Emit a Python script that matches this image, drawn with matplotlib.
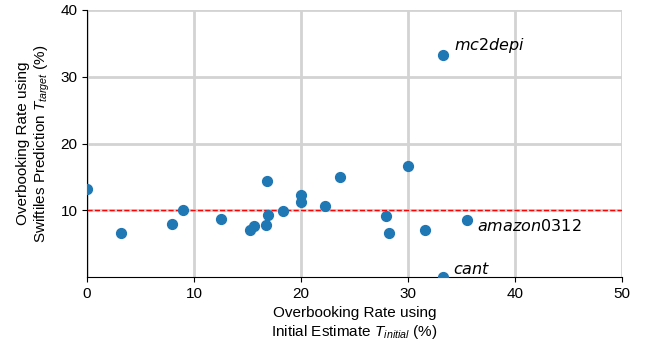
import matplotlib.pyplot as plt

# overbooking rates (%)
t_initial = [0.0, 3.15, 7.9, 9.0, 12.5, 15.2, 15.6, 16.7, 16.8, 16.95, 18.35,
             20.0, 20.0, 22.2, 23.6, 30.0, 27.9, 28.25, 31.55, 33.3, 35.5, 33.25]
t_target = [13.2, 6.6, 7.9, 10.0, 8.75, 7.05, 7.65, 7.75, 14.4, 9.3, 9.9,
            12.3, 11.2, 10.65, 15.05, 16.65, 9.2, 6.6, 7.05, 33.3, 8.6, 0.05]
# \mathsf is mapped to DejaVu italic below, digits stay upright
labeled = {19: r"$\mathsf{mc}\mathrm{2}\mathsf{depi}$",
           20: r"$\mathsf{amazon}\mathrm{0312}$",
           21: r"$\mathsf{cant}$"}
label_offsets = {19: (7.5, 0), 20: (7.5, -10), 21: (7, 0)}
target_rate = 10

plt.rcParams["font.family"] = ["Liberation Sans", "DejaVu Sans"]
plt.rcParams["mathtext.fontset"] = "custom"
plt.rcParams["mathtext.it"] = "Liberation Sans:italic"
plt.rcParams["mathtext.rm"] = "DejaVu Sans"
plt.rcParams["mathtext.sf"] = "DejaVu Sans:italic"

fig = plt.figure(figsize=(6.5, 3.43), dpi=100)
ax = fig.add_axes([0.134, 0.192, 0.823, 0.779])

ax.scatter(t_initial, t_target, s=50, color="#1f77b4", zorder=3)
ax.axhline(target_rate, color="red", linestyle="--", linewidth=1, zorder=2)

for i, name in labeled.items():
    ax.annotate(name, (t_initial[i], t_target[i]), xytext=label_offsets[i],
                textcoords="offset points", fontsize=11.5, va="bottom")

ax.set_xlim(0, 50)
ax.set_ylim(0, 40)
ax.set_xticks([0, 10, 20, 30, 40, 50])
ax.set_yticks([10, 20, 30, 40])
ax.grid(True, color="#d3d3d3", linewidth=2)
ax.set_axisbelow(True)
ax.spines["top"].set_visible(False)
ax.spines["right"].set_visible(False)
ax.tick_params(labelsize=11)

ax.set_xlabel("Overbooking Rate using\nInitial Estimate $T_{initial}$ (%)", fontsize=11)
ax.set_ylabel("Overbooking Rate using\nSwiftiles Prediction $T_{target}$ (%)",
              fontsize=11, labelpad=6)

fig.savefig("out.png", dpi=100)
